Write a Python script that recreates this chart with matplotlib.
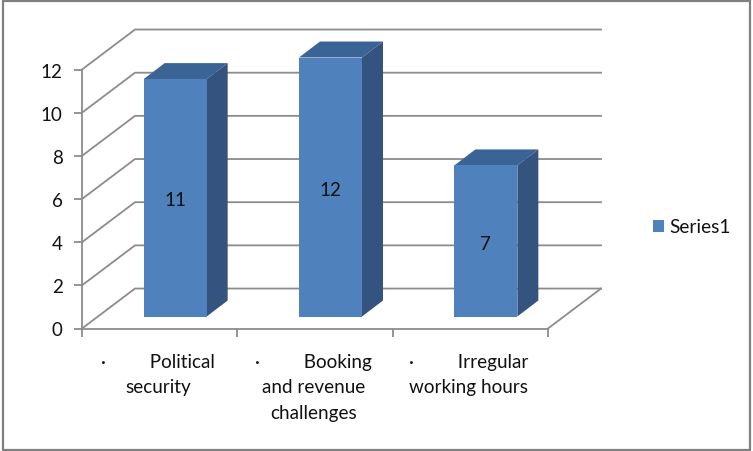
import matplotlib
matplotlib.use('Agg')
import matplotlib.pyplot as plt
from matplotlib.patches import Rectangle

categories = ['·         Political\nsecurity',
              '·         Booking\nand revenue\nchallenges',
              '·         Irregular\nworking hours']
values = [11, 12, 7]
yticks = [0, 2, 4, 6, 8, 10, 12]
series_name = 'Series1'

# pseudo 3d offsets, in data units
depth_x = 53 / 155.33
depth_y = 40 / 21.6
bar_width = 63 / 155.33
bar_x = 15.5 / 155.33   # bar front sits a bit behind the front edge
bar_y = 12 / 21.6
side_x = 21 / 155.33
side_y = 16 / 21.6

front_col = '#4F81BD'
top_col = '#3B6496'
side_col = '#34537F'
grid_col = '#8C8C8C'
text_col = '#111111'

plt.rcParams['font.family'] = ['Lato', 'DejaVu Sans']

W, H = 753, 452
fig = plt.figure(figsize=(W / 100, H / 100), dpi=100)
fig.add_artist(Rectangle((2.5 / W, 1.5 / H), 747.5 / W, 449 / H, transform=fig.transFigure,
                         fill=False, edgecolor='#808080', lw=1.6))

ax = fig.add_axes([82 / W, (H - 329.5) / H, 466 / W, 259 / H])
ax.set_xlim(0, len(values))
ax.set_ylim(0, 12)
ax.patch.set_alpha(0)
for s in ['top', 'right']:
    ax.spines[s].set_visible(False)
for s in ['left', 'bottom']:
    ax.spines[s].set_color(grid_col)
    ax.spines[s].set_linewidth(1.3)

# back wall grid and floor
for v in yticks:
    ax.plot([0, depth_x, len(values) + depth_x], [v, v + depth_y, v + depth_y],
            color=grid_col, lw=1.3, clip_on=False, zorder=1)
ax.plot([len(values), len(values) + depth_x], [0, depth_y], color=grid_col, lw=1.3,
        clip_on=False, zorder=1)

# bars
for i, v in enumerate(values):
    x0 = i + 0.5 + bar_x - bar_width / 2
    x1 = x0 + bar_width
    top = v + bar_y
    ax.fill([x0, x1, x1 + side_x, x0 + side_x], [top, top, top + side_y, top + side_y],
            color=top_col, lw=0, clip_on=False, zorder=3)
    ax.fill([x1, x1 + side_x, x1 + side_x, x1], [bar_y, bar_y + side_y, top + side_y, top],
            color=side_col, lw=0, clip_on=False, zorder=3)
    ax.bar(x0, v, width=bar_width, bottom=bar_y, align='edge', color=front_col,
           clip_on=False, zorder=4, label=series_name if i == 0 else None)
    ax.text((x0 + x1) / 2, bar_y + v / 2 - 0.1, str(v), ha='center', va='center', fontsize=13.5,
            color=text_col, zorder=5)

ax.set_yticks(yticks)
ax.set_xticks(range(len(values) + 1))
ax.set_xticklabels([])
ax.tick_params(axis='y', length=6, width=1.3, color=grid_col, labelsize=13.5,
               labelcolor=text_col, pad=8)
ax.tick_params(axis='x', length=6, width=1.3, color=grid_col)

# category labels
for i, c in enumerate(categories):
    ax.annotate(c, (i + 0.5, 0), xytext=(-1, -17.5), textcoords='offset points', ha='center',
                va='top', fontsize=13.6, color=text_col, linespacing=1.62,
                annotation_clip=False)

ax.legend(loc='center left', bbox_to_anchor=(653 / W, (H - 228) / H),
          bbox_transform=fig.transFigure, frameon=False, fontsize=13.8, handlelength=0.58,
          handleheight=0.58, handletextpad=0.28, borderpad=0, borderaxespad=0,
          labelcolor=text_col)

fig.savefig('out.png', dpi=100)
